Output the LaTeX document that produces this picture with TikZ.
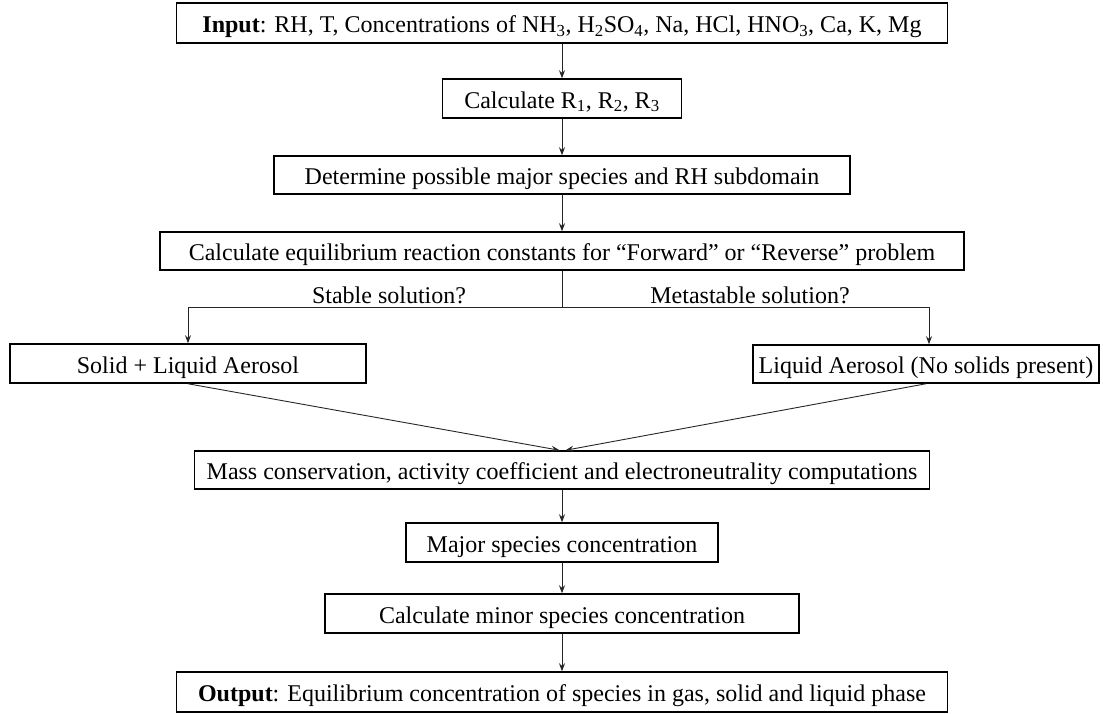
\documentclass[tikz,border=0pt]{standalone}
\usepackage{fontspec}
\setmainfont{Liberation Serif}
\usetikzlibrary{arrows.meta,calc}
\begin{document}
\begin{tikzpicture}[x=1pt,y=-1pt,
  box/.style={draw=black,line width=1.5pt,inner sep=0pt,text height=19pt,text depth=0pt,font=\fontsize{24}{27}\selectfont,text=black},
  arr/.style={draw=black!85,line width=0.9pt,-{Stealth[length=8pt,width=6pt]}},
  ln/.style={draw=black!85,line width=0.9pt},
  lab/.style={font=\fontsize{24}{27}\selectfont,anchor=base}]
\useasboundingbox (0,0) rectangle (1103,713);
\node[box,minimum width=771pt,minimum height=40pt] (in) at (562,23) {\textbf{Input}: RH, T, Concentrations of NH\textsubscript{3}, H\textsubscript{2}SO\textsubscript{4}, Na, HCl, HNO\textsubscript{3}, Ca, K, Mg};
\node[box,minimum width=239pt,minimum height=39pt] (cr) at (562,98.5) {Calculate R\textsubscript{1}, R\textsubscript{2}, R\textsubscript{3}};
\node[box,minimum width=576pt,minimum height=38pt] (dt) at (562,175) {Determine possible major species and RH subdomain};
\node[box,minimum width=804pt,minimum height=38pt] (eq) at (562,251) {Calculate equilibrium reaction constants for “Forward” or “Reverse” problem};
\node[box,minimum width=356pt,minimum height=39pt] (sl) at (188,363.5) {Solid + Liquid Aerosol};
\node[box,minimum width=346pt,minimum height=38pt] (lq) at (926,364) {Liquid Aerosol (No solids present)};
\node[box,minimum width=735pt,minimum height=38pt] (ms) at (562,470) {Mass conservation, activity coefficient and electroneutrality computations};
\node[box,minimum width=312pt,minimum height=39pt] (mj) at (562,542.5) {Major species concentration};
\node[box,minimum width=474pt,minimum height=39pt] (mn) at (562,613.5) {Calculate minor species concentration};
\node[box,minimum width=771pt,minimum height=40pt] (out) at (562,692) {\textbf{Output}: Equilibrium concentration of species in gas, solid and liquid phase};
\draw[arr] (in.south) -- (cr.north);
\draw[arr] (cr.south) -- (dt.north);
\draw[arr] (dt.south) -- (eq.north);
\coordinate (br) at ($(eq.south)+(0,37)$);
\draw[ln] (eq.south) -- (br);
\draw[arr] (br) -| (sl.north);
\draw[arr] (br) -| ($(lq.north)+(3,0)$);
\node[lab] (ls) at (389,303) {Stable solution?};
\node[lab] (lm) at (750,303) {Metastable solution?};
\coordinate (ml) at ($(ms.north)+(-2.5,0)$);
\coordinate (mr) at ($(ms.north)+(3.5,0)$);
\draw[arr] (sl.south) -- (ml);
\draw[arr] (lq.south) -- (mr);
\draw[arr] (ms.south) -- (mj.north);
\draw[arr] (mj.south) -- (mn.north);
\draw[arr] (mn.south) -- (out.north);
\end{tikzpicture}
\end{document}
